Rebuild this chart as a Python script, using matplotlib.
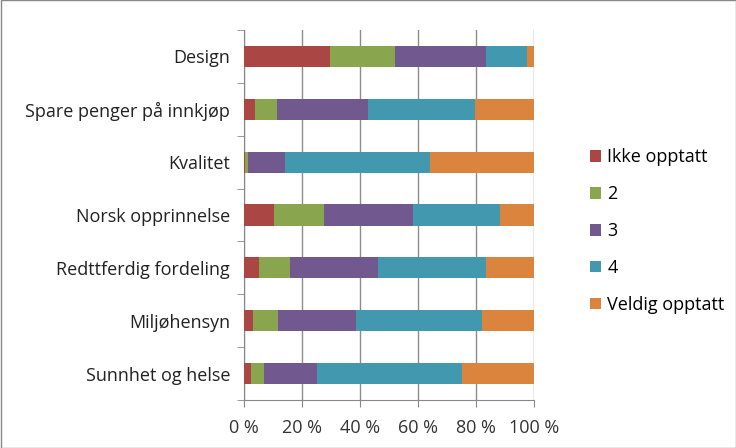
import matplotlib
matplotlib.use("Agg")
import matplotlib.pyplot as plt
import numpy as np
from matplotlib.patches import Rectangle

categories = ["Design", "Spare penger på innkjøp", "Kvalitet", "Norsk opprinnelse",
              "Redttferdig fordeling", "Miljøhensyn", "Sunnhet og helse"]
series_names = ["Ikke opptatt", "2", "3", "4", "Veldig opptatt"]
ikke_opptatt = [29.6, 3.8, 0.5, 10.3, 5.2, 3.1, 2.4]
s2 = [22.5, 7.7, 0.9, 17.4, 10.5, 8.5, 4.4]
s3 = [31.2, 31.2, 12.9, 30.7, 30.4, 27.0, 18.5]
s4 = [14.2, 37.1, 49.8, 30.0, 37.2, 43.5, 50.0]
veldig_opptatt = [2.5, 20.2, 35.9, 11.6, 16.7, 17.9, 24.7]
xticks = [0, 20, 40, 60, 80, 100]
xtick_labels = ["0 %", "20 %", "40 %", "60 %", "80 %", "100 %"]

colors = ["#AA4643", "#89A54E", "#71588F", "#4198AF", "#DB843D"]
series = [ikke_opptatt, s2, s3, s4, veldig_opptatt]

plt.rcParams['font.family'] = ['Open Sans', 'DejaVu Sans']
fig = plt.figure(figsize=(7.36, 4.48), dpi=100)
ax = fig.add_axes([244/736, 1 - 400/448, 290/736, 370/448])

n = len(categories)
y = np.arange(n)
left = np.zeros(n)
for vals, name, c in zip(series, series_names, colors):
    ax.barh(y, vals, left=left, height=0.4, color=c, label=name, zorder=3)
    left += np.array(vals)

fs = 13
ax.set_xlim(0, 100)
ax.set_ylim(n - 0.5, -0.5)
ax.set_xticks(xticks)
ax.set_xticklabels(xtick_labels, fontsize=fs, color="#333333")
ax.set_yticks(y)
ax.set_yticklabels(categories, fontsize=fs, color="#222222")
ax.tick_params(axis='y', length=0, pad=10)
ax.tick_params(axis='x', length=5, color="#888888", pad=9)
ax.set_yticks(np.arange(-0.5, n, 1), minor=True)
ax.tick_params(axis='y', which='minor', length=5, color="#888888")
ax.grid(axis='x', color="#8C8C8C", linewidth=1, zorder=0)
for s in ["top", "right"]:
    ax.spines[s].set_visible(False)
ax.spines["left"].set_color("#888888")
ax.spines["bottom"].set_color("#888888")

handles, labels = ax.get_legend_handles_labels()
leg = fig.legend(handles, labels, loc="upper left", bbox_to_anchor=(574/736, 1 - 132/448),
                 frameon=False, fontsize=fs, handlelength=0.6, handleheight=0.6,
                 labelspacing=1.05, handletextpad=0.35)

fig.patches.append(Rectangle((0.5/736, 0.5/448), 1 - 1/736, 1 - 1/448, transform=fig.transFigure,
                             fill=False, edgecolor="#888888", linewidth=1))
fig.savefig("out.png", dpi=100)
